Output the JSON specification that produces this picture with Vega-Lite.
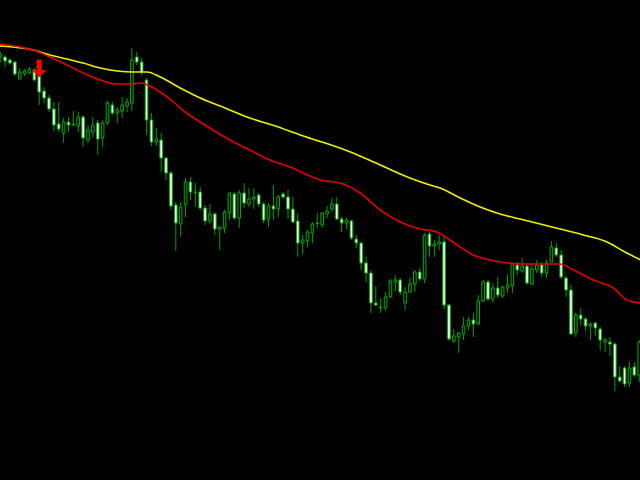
{
  "$schema": "https://vega.github.io/schema/vega-lite/v6.json",
  "width": 640,
  "height": 480,
  "autosize": {"type": "none"},
  "padding": 0,
  "background": "#000000",
  "config": {"view": {"stroke": null}},
  "datasets": {
    "candles": [
      {"t":0,"open":423,"high":428,"low":417,"close":426},
      {"t":1,"open":423,"high":425,"low":413,"close":419},
      {"t":2,"open":420,"high":422,"low":415,"close":417},
      {"t":3,"open":418,"high":419,"low":404,"close":406},
      {"t":4,"open":401,"high":412,"low":401,"close":408},
      {"t":5,"open":406,"high":411,"low":404,"close":409},
      {"t":6,"open":407,"high":413,"low":406,"close":411},
      {"t":7,"open":410,"high":412,"low":399,"close":400},
      {"t":8,"open":404,"high":405,"low":375,"close":388},
      {"t":9,"open":389,"high":393,"low":377,"close":382},
      {"t":10,"open":382,"high":385,"low":368,"close":371},
      {"t":11,"open":371,"high":378,"low":349,"close":355},
      {"t":12,"open":356,"high":378,"low":348,"close":351},
      {"t":13,"open":347,"high":362,"low":337,"close":358},
      {"t":14,"open":358,"high":363,"low":348,"close":355},
      {"t":15,"open":355,"high":369,"low":354,"close":356},
      {"t":16,"open":354,"high":368,"low":348,"close":363},
      {"t":17,"open":363,"high":365,"low":333,"close":342},
      {"t":18,"open":340,"high":355,"low":337,"close":350},
      {"t":19,"open":348,"high":363,"low":343,"close":355},
      {"t":20,"open":357,"high":360,"low":325,"close":341},
      {"t":21,"open":342,"high":360,"low":333,"close":357},
      {"t":22,"open":357,"high":379,"low":355,"close":377},
      {"t":23,"open":375,"high":378,"low":365,"close":367},
      {"t":24,"open":367,"high":373,"low":357,"close":370},
      {"t":25,"open":369,"high":383,"low":362,"close":375},
      {"t":26,"open":374,"high":382,"low":368,"close":378},
      {"t":27,"open":377,"high":432,"low":369,"close":420},
      {"t":28,"open":423,"high":428,"low":415,"close":418},
      {"t":29,"open":418,"high":422,"low":405,"close":408},
      {"t":30,"open":400,"high":402,"low":345,"close":360},
      {"t":31,"open":360,"high":367,"low":334,"close":338},
      {"t":32,"open":338,"high":352,"low":334,"close":341},
      {"t":33,"open":340,"high":347,"low":308,"close":322},
      {"t":34,"open":322,"high":323,"low":300,"close":307},
      {"t":35,"open":307,"high":309,"low":270,"close":274},
      {"t":36,"open":275,"high":278,"low":229,"close":257},
      {"t":37,"open":256,"high":278,"low":243,"close":273},
      {"t":38,"open":275,"high":302,"low":263,"close":298},
      {"t":39,"open":298,"high":303,"low":280,"close":288},
      {"t":40,"open":287.5,"high":297,"low":273,"close":288},
      {"t":41,"open":288,"high":293,"low":270,"close":272},
      {"t":42,"open":272,"high":275,"low":255,"close":259},
      {"t":43,"open":259,"high":276,"low":256,"close":266},
      {"t":44,"open":266,"high":268,"low":245,"close":251},
      {"t":45,"open":251,"high":253,"low":230,"close":253},
      {"t":46,"open":252,"high":270,"low":247,"close":268},
      {"t":47,"open":267,"high":288,"low":260,"close":287},
      {"t":48,"open":286,"high":288,"low":260,"close":262},
      {"t":49,"open":262,"high":290,"low":252,"close":287},
      {"t":50,"open":287,"high":297,"low":272,"close":277},
      {"t":51,"open":276,"high":292,"low":273,"close":281},
      {"t":52,"open":281,"high":292,"low":271,"close":283},
      {"t":53,"open":285,"high":287,"low":273,"close":276},
      {"t":54,"open":276,"high":278,"low":257,"close":260},
      {"t":55,"open":261,"high":277,"low":253,"close":274},
      {"t":56,"open":274,"high":295,"low":260,"close":271},
      {"t":57,"open":271,"high":285,"low":263,"close":283},
      {"t":58,"open":286,"high":288,"low":281,"close":283},
      {"t":59,"open":283,"high":290,"low":261,"close":271},
      {"t":60,"open":271,"high":283,"low":257,"close":258},
      {"t":61,"open":259,"high":267,"low":223,"close":237},
      {"t":62,"open":237,"high":245,"low":226,"close":240},
      {"t":63,"open":239,"high":250,"low":233,"close":248},
      {"t":64,"open":247,"high":258,"low":237,"close":256},
      {"t":65,"open":256.5,"high":267,"low":252,"close":257},
      {"t":66,"open":255,"high":268,"low":252,"close":267},
      {"t":67,"open":266,"high":274,"low":262,"close":269},
      {"t":68,"open":271,"high":282,"low":268,"close":276},
      {"t":69,"open":276,"high":283,"low":260,"close":261},
      {"t":70,"open":261,"high":263,"low":248,"close":257},
      {"t":71,"open":257,"high":262,"low":251,"close":260},
      {"t":72,"open":259,"high":260,"low":240,"close":242},
      {"t":73,"open":241,"high":245,"low":232,"close":237},
      {"t":74,"open":237,"high":238,"low":210,"close":217},
      {"t":75,"open":217,"high":223,"low":198,"close":207},
      {"t":76,"open":207,"high":210,"low":167,"close":177},
      {"t":77,"open":177,"high":194,"low":174,"close":175},
      {"t":78,"open":172.5,"high":182,"low":167,"close":173},
      {"t":79,"open":172,"high":188,"low":170,"close":183},
      {"t":80,"open":183,"high":201,"low":182,"close":199},
      {"t":81,"open":198,"high":205,"low":189,"close":200},
      {"t":82,"open":200,"high":202,"low":185,"close":188},
      {"t":83,"open":177,"high":193,"low":170,"close":188},
      {"t":84,"open":188,"high":202,"low":187,"close":196},
      {"t":85,"open":196,"high":210,"low":188,"close":208},
      {"t":86,"open":208,"high":212,"low":199,"close":201},
      {"t":87,"open":201,"high":247,"low":197,"close":245},
      {"t":88,"open":246,"high":248,"low":223,"close":234},
      {"t":89,"open":234,"high":240,"low":223,"close":236},
      {"t":90,"open":236,"high":245,"low":230,"close":238},
      {"t":91,"open":238,"high":245,"low":171,"close":175},
      {"t":92,"open":175,"high":176,"low":139,"close":141},
      {"t":93,"open":139,"high":151,"low":137,"close":144},
      {"t":94,"open":143,"high":148,"low":127,"close":147},
      {"t":95,"open":146,"high":163,"low":140,"close":154},
      {"t":96,"open":154,"high":163,"low":150,"close":160},
      {"t":97,"open":160,"high":167,"low":143,"close":156},
      {"t":98,"open":156,"high":185,"low":155,"close":179},
      {"t":99,"open":179,"high":200,"low":178,"close":198},
      {"t":100,"open":198,"high":200,"low":179,"close":181},
      {"t":101,"open":181,"high":197,"low":177,"close":192},
      {"t":102,"open":192,"high":203,"low":182,"close":185},
      {"t":103,"open":184,"high":194,"low":182,"close":193},
      {"t":104,"open":192,"high":205,"low":187,"close":195},
      {"t":105,"open":194,"high":217,"low":187,"close":216},
      {"t":106,"open":215,"high":218,"low":205,"close":210},
      {"t":107,"open":209,"high":222,"low":207,"close":214},
      {"t":108,"open":214,"high":217,"low":195,"close":197},
      {"t":109,"open":196,"high":215,"low":195,"close":211},
      {"t":110,"open":210,"high":220,"low":207,"close":215},
      {"t":111,"open":215,"high":218,"low":203,"close":207},
      {"t":112,"open":207,"high":220,"low":202,"close":217},
      {"t":113,"open":218,"high":239,"low":218,"close":233},
      {"t":114,"open":232,"high":237,"low":223,"close":225},
      {"t":115,"open":225,"high":230,"low":201,"close":203},
      {"t":116,"open":202,"high":204,"low":183,"close":190},
      {"t":117,"open":190,"high":195,"low":145,"close":146},
      {"t":118,"open":147,"high":167,"low":143,"close":165},
      {"t":119,"open":165,"high":172,"low":155,"close":161},
      {"t":120,"open":161,"high":163,"low":149,"close":154},
      {"t":121,"open":154,"high":158,"low":140,"close":156},
      {"t":122,"open":157,"high":158,"low":144,"close":152},
      {"t":123,"open":151,"high":153,"low":130,"close":140},
      {"t":124,"open":138,"high":142,"low":128,"close":140},
      {"t":125,"open":138,"high":143,"low":124,"close":136},
      {"t":126,"open":136,"high":138,"low":89,"close":103},
      {"t":127,"open":103,"high":114,"low":98,"close":99},
      {"t":128,"open":112,"high":114,"low":93,"close":96},
      {"t":129,"open":97,"high":118,"low":93,"close":112},
      {"t":130,"open":113,"high":118,"low":103,"close":105},
      {"t":131,"open":105,"high":140,"low":98,"close":138}
    ],
    "ma": [
      {"series":"slow","t":-0.1,"price":434},
      {"series":"slow","t":6.8,"price":430},
      {"series":"slow","t":10.2,"price":425},
      {"series":"slow","t":13.7,"price":421},
      {"series":"slow","t":17,"price":417},
      {"series":"slow","t":20.5,"price":412},
      {"series":"slow","t":24,"price":409},
      {"series":"slow","t":27.3,"price":408},
      {"series":"slow","t":30.1,"price":408},
      {"series":"slow","t":32.8,"price":403},
      {"series":"slow","t":36.9,"price":392},
      {"series":"slow","t":41,"price":382},
      {"series":"slow","t":46.1,"price":372},
      {"series":"slow","t":51.2,"price":362},
      {"series":"slow","t":56.4,"price":354},
      {"series":"slow","t":61.5,"price":345},
      {"series":"slow","t":66.6,"price":337},
      {"series":"slow","t":71.8,"price":328},
      {"series":"slow","t":77.9,"price":315},
      {"series":"slow","t":84,"price":302},
      {"series":"slow","t":88.1,"price":295},
      {"series":"slow","t":90.2,"price":292},
      {"series":"slow","t":94.3,"price":282},
      {"series":"slow","t":98.4,"price":273},
      {"series":"slow","t":102.5,"price":266},
      {"series":"slow","t":106.6,"price":261},
      {"series":"slow","t":110.7,"price":256},
      {"series":"slow","t":114.8,"price":251},
      {"series":"slow","t":119.5,"price":245},
      {"series":"slow","t":124.4,"price":238},
      {"series":"slow","t":127.7,"price":229},
      {"series":"slow","t":131.3,"price":220},
      {"series":"fast","t":-0.1,"price":436},
      {"series":"fast","t":4.1,"price":433},
      {"series":"fast","t":6.8,"price":430},
      {"series":"fast","t":10.2,"price":423},
      {"series":"fast","t":13.7,"price":415},
      {"series":"fast","t":17,"price":407},
      {"series":"fast","t":20.5,"price":400},
      {"series":"fast","t":24,"price":396},
      {"series":"fast","t":26.6,"price":396},
      {"series":"fast","t":28.7,"price":397},
      {"series":"fast","t":30.7,"price":394},
      {"series":"fast","t":32.8,"price":388},
      {"series":"fast","t":35.5,"price":378},
      {"series":"fast","t":37.9,"price":368},
      {"series":"fast","t":41,"price":358},
      {"series":"fast","t":47.1,"price":340},
      {"series":"fast","t":51.2,"price":330},
      {"series":"fast","t":55.3,"price":320},
      {"series":"fast","t":59.4,"price":313},
      {"series":"fast","t":63.5,"price":304},
      {"series":"fast","t":65.6,"price":300},
      {"series":"fast","t":69.7,"price":297},
      {"series":"fast","t":73.8,"price":287},
      {"series":"fast","t":77.9,"price":270},
      {"series":"fast","t":82,"price":258},
      {"series":"fast","t":86.1,"price":251},
      {"series":"fast","t":89.5,"price":248},
      {"series":"fast","t":92.2,"price":240},
      {"series":"fast","t":97,"price":225},
      {"series":"fast","t":100.4,"price":220},
      {"series":"fast","t":103.9,"price":217},
      {"series":"fast","t":108,"price":216},
      {"series":"fast","t":114.8,"price":216},
      {"series":"fast","t":117.5,"price":210},
      {"series":"fast","t":121.6,"price":200},
      {"series":"fast","t":125.7,"price":192},
      {"series":"fast","t":128.5,"price":180},
      {"series":"fast","t":131.3,"price":177}
    ],
    "arrows": [
      {"t":8,"price":411.5,"signal":"sell"}
    ]
  },
  "layer": [
    {
      "data": {"name": "candles"},
      "mark": {"type": "rule", "color": "#00a000", "strokeWidth": 1},
      "encoding": {
        "x": {"field": "t", "type": "quantitative", "scale": {"domain": [-0.04, 131.16], "nice": false, "zero": false, "padding": 0}, "axis": null},
        "y": {"field": "low", "type": "quantitative", "scale": {"domain": [0, 480], "nice": false, "zero": false, "padding": 0}, "axis": null},
        "y2": {"field": "high"}
      }
    },
    {
      "data": {"name": "candles"},
      "mark": {"type": "bar", "width": 2.6, "stroke": "#00b000", "strokeWidth": 1},
      "encoding": {
        "x": {"field": "t", "type": "quantitative"},
        "y": {"field": "open", "type": "quantitative"},
        "y2": {"field": "close"},
        "fill": {"condition": {"test": "datum.close < datum.open", "value": "#ffffff"}, "value": "#000000"}
      }
    },
    {
      "data": {"name": "ma"},
      "mark": {"type": "line", "strokeWidth": 1.6, "interpolate": "monotone", "clip": true},
      "encoding": {
        "x": {"field": "t", "type": "quantitative"},
        "y": {"field": "price", "type": "quantitative"},
        "color": {"field": "series", "type": "nominal", "scale": {"domain": ["slow", "fast"], "range": ["#f0f000", "#e80000"]}, "legend": null}
      }
    },
    {
      "data": {"name": "arrows"},
      "mark": {"type": "point", "shape": "M-0.3,-1L0.3,-1L0.3,0.2L0.85,0.2L0,1L-0.85,0.2L-0.3,0.2Z", "filled": true, "color": "#ff0000", "opacity": 1, "size": 300},
      "encoding": {
        "x": {"field": "t", "type": "quantitative"},
        "y": {"field": "price", "type": "quantitative"}
      }
    }
  ]
}
